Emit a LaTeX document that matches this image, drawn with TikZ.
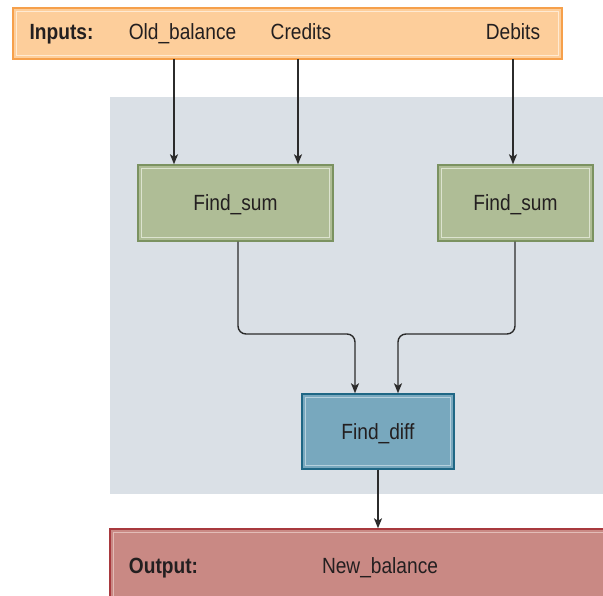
\documentclass[tikz,border=0pt]{standalone}
\usepackage{fontspec}
\setmainfont{Liberation Sans}[FakeStretch=0.87]
\usetikzlibrary{arrows.meta}
\definecolor{txt}{HTML}{231F20}
\definecolor{inFill}{HTML}{FDCE9B}
\definecolor{inLine}{HTML}{F6A04B}
\definecolor{inInner}{HTML}{FFEAD2}
\definecolor{bgGray}{HTML}{DAE0E6}
\definecolor{gFill}{HTML}{AFBD96}
\definecolor{gLine}{HTML}{7B9260}
\definecolor{gInner}{HTML}{DCE3CF}
\definecolor{bFill}{HTML}{78A8BE}
\definecolor{bLine}{HTML}{1F6785}
\definecolor{bInner}{HTML}{B5D0DD}
\definecolor{rFill}{HTML}{C98984}
\definecolor{rLine}{HTML}{A8393E}
\definecolor{rInner}{HTML}{E3BCB7}
\definecolor{wire}{HTML}{2B2B2B}
\tikzset{
  box/.style={draw, line width=1.4pt, inner sep=0pt, text=txt},
  lbl/.style={inner sep=0pt, text=txt, text height=15.7pt, text depth=0pt, font=\fontsize{22}{26}\selectfont},
  blbl/.style={lbl, font=\fontsize{22}{26}\selectfont\bfseries},
  arr/.style={-{Stealth[length=10pt,width=8pt,inset=2.5pt]}, draw=wire, line width=1.4pt},
}
\newcommand{\innerline}[2]{\draw[#2, line width=1pt] ([shift={(4.5pt,-4.5pt)}]#1.north west) rectangle ([shift={(-4.5pt,4.5pt)}]#1.south east);}
\begin{document}
\begin{tikzpicture}[x=1pt,y=-1pt]
\useasboundingbox (0,0) rectangle (603,596);
\clip (0,0) rectangle (603,596);
% grey area
\fill[bgGray] (110,97) rectangle (620,494);
% inputs box
\node[box, draw=inLine, fill=inFill, minimum width=549pt, minimum height=51pt] (in) at (287.5,33.5) {};
\innerline{in}{inInner}
\node[blbl] (inl) at (61.5,32) {Inputs:};
\node[lbl] (ob) at (182.5,32) {Old\_balance};
\node[lbl] (cr) at (301,32) {Credits};
\node[lbl] (db) at (513,32) {Debits};
% find_sum boxes
\node[box, draw=gLine, fill=gFill, minimum width=195pt, minimum height=76pt, lbl] (fs1) at (235.5,203) {Find\_sum};
\innerline{fs1}{gInner}
\node[box, draw=gLine, fill=gFill, minimum width=155pt, minimum height=76pt, lbl] (fs2) at (515.5,203) {Find\_sum};
\innerline{fs2}{gInner}
% find_diff
\node[box, draw=bLine, fill=bFill, minimum width=152pt, minimum height=75pt, lbl] (fd) at (378,431.5) {Find\_diff};
\innerline{fd}{bInner}
% output box
\node[box, draw=rLine, fill=rFill, minimum width=520pt, minimum height=72pt] (out) at (370,565) {};
\innerline{out}{rInner}
\node[blbl] (outl) at (163.5,566) {Output:};
\node[lbl] (nb) at (380,566) {New\_balance};
% connectors
\coordinate (s1) at (174,59);
\coordinate (s2) at (298,59);
\coordinate (s3) at (513,59);
\draw[arr] (s1) -- (s1 |- fs1.north);
\draw[arr] (s2) -- (s2 |- fs1.north);
\draw[arr] (s3) -- (s3 |- fs2.north);
\coordinate (j1) at (355,334);
\coordinate (j2) at (398,334);
\draw[arr, rounded corners=8pt] ([xshift=2.5pt]fs1.south) |- (j1) -- (j1 |- fd.north);
\draw[arr, rounded corners=8pt] ([xshift=-0.5pt]fs2.south) |- (j2) -- (j2 |- fd.north);
\draw[arr] (fd.south) -- (fd.south |- out.north);
\end{tikzpicture}
\end{document}
